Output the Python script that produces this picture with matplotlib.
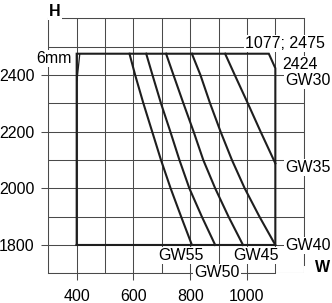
import matplotlib
matplotlib.use('Agg')
import matplotlib.pyplot as plt

plt.rcParams['font.family'] = ['Liberation Sans', 'DejaVu Sans']
plt.rcParams['font.size'] = 11.5

h_levels = [2475, 2400, 2300, 2200, 2100, 2000, 1900, 1800]
gw55 = [586, 606, 635, 666, 697, 731, 768, 806]
gw50 = [645, 667, 697, 730, 762, 797, 841, 888]
gw45 = [715, 741, 776, 812, 846, 888, 935, 986]
gw40 = [806, 836, 870, 907, 947, 992, 1044, 1100]
gw35_h = [2475, 2400, 2300, 2200, 2088]
gw35_w = [923, 957, 1003, 1048, 1100]

# outer limit
env_w = [400, 400, 1077, 1100, 1100, 400]
env_h = [1800, 2475, 2475, 2424, 1800, 1800]
mm_w = [411, 401]
mm_h = [2475, 2380]

x_ticks = [400, 600, 800, 1000]
y_ticks = [1800, 2000, 2200, 2400]

gc = '#4a4a4a'
lc = '#1e1e1e'

fig = plt.figure(figsize=(3.32, 3.03), dpi=100)
ax = fig.add_axes([0.1455, 0.098, 0.7693, 0.8416])
ax.set_xlim(300, 1200)
ax.set_ylim(1700, 2600)

ax.set_xticks(x_ticks)
ax.set_yticks(y_ticks)
ax.set_xticks(range(300, 1201, 100), minor=True)
ax.set_yticks(range(1700, 2601, 100), minor=True)
ax.grid(which='both', color=gc, lw=0.75)
ax.tick_params(which='major', length=5, width=0.75, color=gc)
ax.tick_params(axis='x', which='major', pad=6)
ax.tick_params(axis='y', which='major', pad=5)
ax.tick_params(which='minor', length=0)
for s in ax.spines.values():
    s.set_color(gc)
    s.set_linewidth(0.75)
ax.spines['bottom'].set_bounds(300, 1100)
ax.spines['right'].set_bounds(1730, 2600)

lw = 1.5
ax.plot(env_w, env_h, color=lc, lw=lw, solid_joinstyle='miter')
ax.plot(mm_w, mm_h, color=lc, lw=0.9)
for w in [gw55, gw50, gw45, gw40]:
    ax.plot(w, h_levels, color=lc, lw=lw)
ax.plot(gw35_w, gw35_h, color=lc, lw=lw)

box = dict(facecolor='white', edgecolor='none', pad=0.8)
kw = dict(va='baseline', bbox=box, zorder=5, clip_on=False)
ax.text(382, 2441, '6mm', ha='right', **kw)
ax.text(994, 2494, '1077; 2475', ha='left', **kw)
ax.text(1123, 2420, '2424', ha='left', **kw)
ax.text(1135, 2365, 'GW30', ha='left', **kw)
ax.text(1135, 2058, 'GW35', ha='left', **kw)
ax.text(1135, 1782, 'GW40', ha='left', **kw)
ax.text(767, 1747, 'GW55', ha='center', **kw)
ax.text(1032, 1747, 'GW45', ha='center', **kw)
ax.text(894, 1686, 'GW50', ha='center', **kw)
ax.text(323, 2608, 'H', ha='center', fontweight='bold', **kw)
ax.text(1267, 1705, 'W', ha='center', fontweight='bold', **kw)

fig.savefig('out.png', dpi=100)
